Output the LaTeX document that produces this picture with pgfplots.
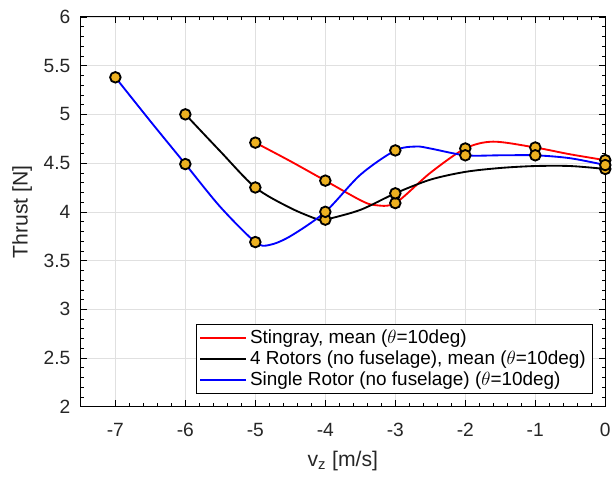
\documentclass[border=0pt]{standalone}
\usepackage{pgfplots}
\pgfplotsset{compat=1.18}
\usepackage{fontspec}
\setmainfont{Liberation Sans}
\definecolor{mkfill}{rgb}{0.929,0.694,0.125}
\definecolor{gridgray}{gray}{0.88}
\pgfplotsset{legend image code/.code={\draw[#1] (0pt,0pt) -- (35pt,0pt);}}
\begin{document}
\begin{tikzpicture}
\begin{axis}[
  at={(0,0)}, anchor=south west,
  scale only axis,
  width=396.75pt, height=294.75pt,
  xmin=-7.5, xmax=0, ymin=2, ymax=6,
  xtick={-7,-6,-5,-4,-3,-2,-1,0},
  ytick={2,2.5,3,3.5,4,4.5,5,5.5,6},
  minor x tick num=4, minor y tick num=4,
  tick align=inside,
  major tick length=5pt, minor tick length=2.6pt,
  tick style={black, line width=0.5pt},
  axis line style={black, line width=0.6pt},
  grid=major,
  major grid style={gridgray, line width=0.5pt},
  /pgf/number format/assume math mode=true,
  /pgf/number format/.cd, fixed, precision=1, /pgfplots/.cd,
  ticklabel style={font=\fontsize{14.5}{17}\selectfont, text=black!85},
  xticklabel style={yshift=-9pt},
  yticklabel style={xshift=-4pt},
  xlabel={v\textsubscript{z} [m/s]},
  ylabel={Thrust [N]},
  label style={font=\fontsize{16}{19}\selectfont, text=black!85},
  xlabel style={at={(axis description cs:0.5,0)}, anchor=center, yshift=-41pt},
  ylabel style={at={(axis description cs:0,0.5)}, anchor=center, yshift=44pt},
  legend style={at={(axis description cs:0.975,0.033)}, anchor=south east,
    font=\fontsize{14.3}{19}\selectfont, inner sep=2.6pt,
    legend cell align=left},
]
% curves
\addplot[red, line width=1.4pt, smooth, tension=0.5] coordinates {
 (-5,4.71) (-4.5,4.52) (-4,4.32) (-3.5,4.12) (-3.3,4.07) (-3,4.09) (-2.5,4.40)
 (-2,4.65) (-1.6,4.72) (-1,4.66) (-0.5,4.59) (0,4.53)};
\addlegendentry{Stingray, mean ($\theta$=10deg)}
\addplot[black, line width=1.4pt, smooth, tension=0.5] coordinates {
 (-6,5.00) (-5.5,4.62) (-5,4.25) (-4.5,4.04) (-4.1,3.92) (-4,3.92) (-3.5,4.02)
 (-3,4.19) (-2.5,4.33) (-2,4.41) (-1.5,4.45) (-1,4.47) (-0.5,4.47) (0,4.44)};
\addlegendentry{4 Rotors (no fuselage), mean ($\theta$=10deg)}
\addplot[blue, line width=1.4pt, smooth, tension=0.5] coordinates {
 (-7,5.38) (-6.5,4.93) (-6,4.49) (-5.5,4.05) (-5,3.69) (-4.8,3.66) (-4.5,3.75)
 (-4,4.00) (-3.5,4.38) (-3,4.63) (-2.7,4.67) (-2.5,4.65) (-2,4.58) (-1.5,4.58)
 (-1,4.58) (-0.5,4.55) (0,4.48)};
\addlegendentry{Single Rotor (no fuselage) ($\theta$=10deg)}
% markers
\addplot[only marks, mark=*, mark size=4pt, mark options={fill=mkfill, draw=black, line width=1.4pt}, forget plot] coordinates {
 (-5,4.71) (-4,4.32) (-3,4.09) (-2,4.65) (-1,4.66) (0,4.53)};
\addplot[only marks, mark=*, mark size=4pt, mark options={fill=mkfill, draw=black, line width=1.4pt}, forget plot] coordinates {
 (-6,5.00) (-5,4.25) (-4,3.92) (-3,4.19) (0,4.44)};
\addplot[only marks, mark=*, mark size=4pt, mark options={fill=mkfill, draw=black, line width=1.4pt}, forget plot] coordinates {
 (-7,5.38) (-6,4.49) (-5,3.69) (-4,4.00) (-3,4.63) (-2,4.58) (-1,4.58) (0,4.48)};
\end{axis}
\useasboundingbox (-60.75pt,-56.25pt) rectangle (400.5pt,307.5pt);
\end{tikzpicture}
\end{document}
